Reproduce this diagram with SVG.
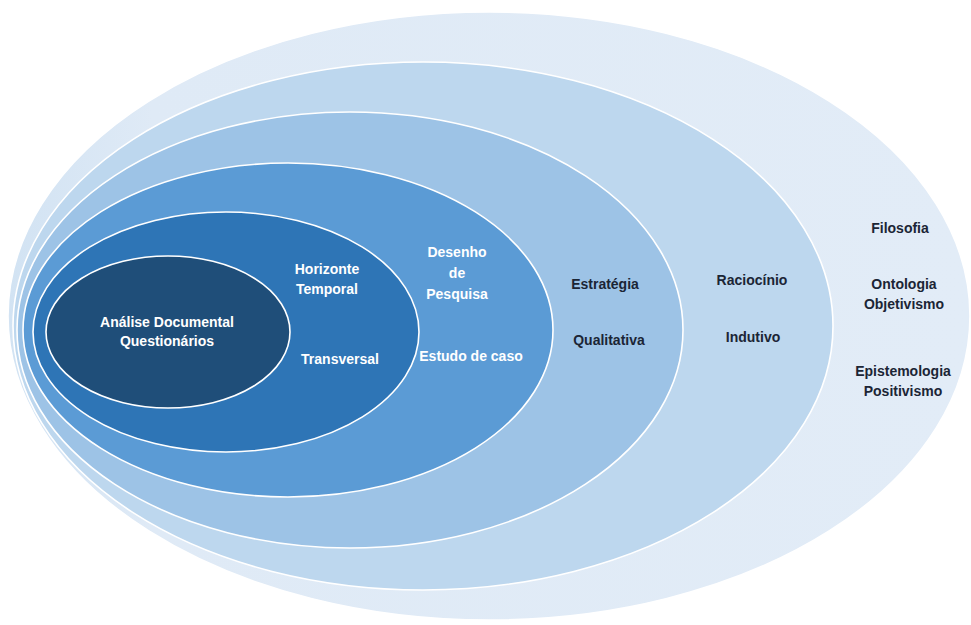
<svg xmlns="http://www.w3.org/2000/svg" width="971" height="625" viewBox="0 0 971 625">
<defs>
<style>
.ring{stroke:#ffffff;stroke-width:1.6}
.t{font-family:"Liberation Sans","Open Sans",Arial,sans-serif;font-weight:bold;font-size:14px;text-anchor:middle}
.w{fill:#ffffff}
.d{fill:#1b2535}
</style>
<linearGradient id="g0" x1="0" y1="0" x2="1" y2="0">
<stop offset="0" stop-color="#d2e3f3"/><stop offset="0.15" stop-color="#dfeaf6"/><stop offset="1" stop-color="#e2ecf7"/>
</linearGradient>
</defs>
<rect width="971" height="625" fill="#ffffff"/>
<g id="filosofia">
<ellipse class="ring" cx="489" cy="316" rx="481" ry="304" fill="url(#g0)"/>
<text class="t d" x="900" y="233">Filosofia</text>
<text class="t d" x="904" y="289">Ontologia</text>
<text class="t d" x="904" y="309">Objetivismo</text>
<text class="t d" x="903" y="376">Epistemologia</text>
<text class="t d" x="903" y="396">Positivismo</text>
</g>
<g id="raciocinio">
<ellipse class="ring" cx="423" cy="326" rx="410" ry="264" fill="#bdd7ee"/>
<text class="t d" x="752" y="285">Raciocínio</text>
<text class="t d" x="753" y="342">Indutivo</text>
</g>
<g id="estrategia">
<ellipse class="ring" cx="350" cy="330" rx="333" ry="218" fill="#9dc3e6"/>
<text class="t d" x="605" y="289">Estratégia</text>
<text class="t d" x="609" y="345">Qualitativa</text>
</g>
<g id="desenho">
<ellipse class="ring" cx="288" cy="330" rx="265" ry="167" fill="#5b9bd5"/>
<text class="t w" x="457" y="257">Desenho</text>
<text class="t w" x="457" y="278">de</text>
<text class="t w" x="457" y="299">Pesquisa</text>
<text class="t w" x="471" y="361">Estudo de caso</text>
</g>
<g id="horizonte">
<ellipse class="ring" cx="226" cy="332" rx="193" ry="120" fill="#2e75b6"/>
<text class="t w" x="327" y="274">Horizonte</text>
<text class="t w" x="327" y="294">Temporal</text>
<text class="t w" x="340" y="364">Transversal</text>
</g>
<g id="tecnicas">
<ellipse class="ring" cx="168" cy="332" rx="122" ry="76" fill="#1f4e79"/>
<text class="t w" x="167" y="327">Análise Documental</text>
<text class="t w" x="167" y="346">Questionários</text>
</g>
<g id="connectors"></g>
</svg>
